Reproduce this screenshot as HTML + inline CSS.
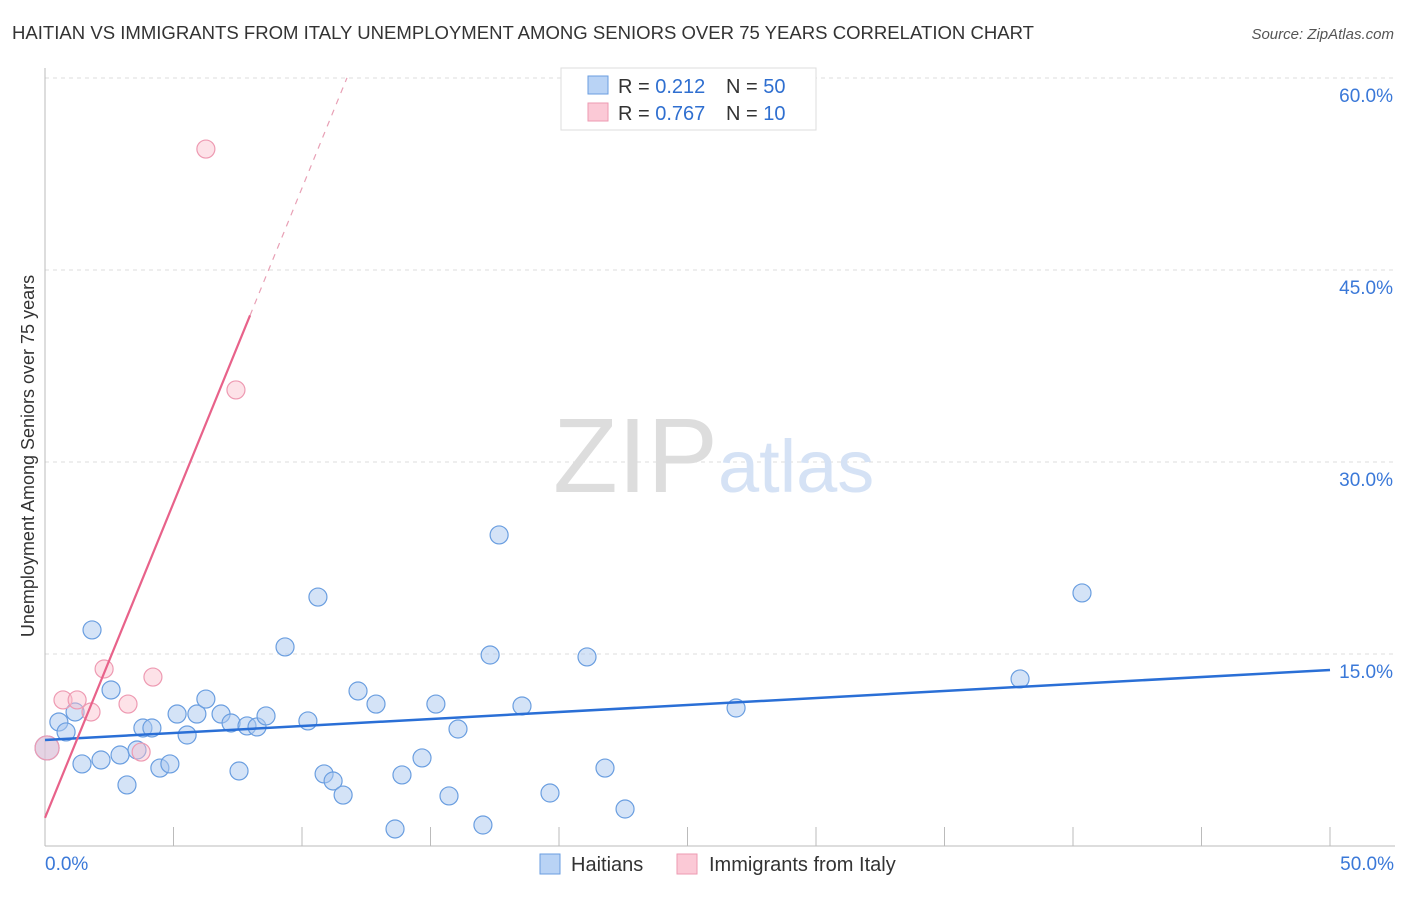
<!DOCTYPE html>
<html><head><meta charset="utf-8"><style>
body{margin:0;background:#fff;font-family:"Liberation Sans",sans-serif;}
svg text{font-family:"Liberation Sans",sans-serif;}
</style></head><body>
<svg id="chart" width="1406" height="892" xmlns="http://www.w3.org/2000/svg">
<text x="12" y="39" font-size="18.5" fill="#333" textLength="1022" lengthAdjust="spacingAndGlyphs">HAITIAN VS IMMIGRANTS FROM ITALY UNEMPLOYMENT AMONG SENIORS OVER 75 YEARS CORRELATION CHART</text>
<text x="1394" y="39" font-size="15" fill="#555" text-anchor="end" font-style="italic">Source: ZipAtlas.com</text>
<g id="grid"></g>
<text x="553" y="492" font-size="106" fill="#ddd" font-family="Liberation Serif">ZIP</text>
<text x="718" y="492" font-size="74" fill="#d5e2f5">atlas</text>
<g id="marks"></g>
<text transform="translate(34,456) rotate(-90)" font-size="18" fill="#333" text-anchor="middle">Unemployment Among Seniors over 75 years</text>
<g>
<rect x="561" y="68" width="255" height="62" fill="#fff" stroke="#ddd"/>
<rect x="588" y="76" width="20" height="18" fill="#b9d3f5" stroke="#6a9ee0"/>
<rect x="588" y="103" width="20" height="18" fill="#fbc9d6" stroke="#ee9ab2"/>
<text x="618" y="93" font-size="20" fill="#333">R = <tspan fill="#2f6fd0">0.212</tspan></text>
<text x="726" y="93" font-size="20" fill="#333">N = <tspan fill="#2f6fd0">50</tspan></text>
<text x="618" y="120" font-size="20" fill="#333">R = <tspan fill="#2f6fd0">0.767</tspan></text>
<text x="726" y="120" font-size="20" fill="#333">N = <tspan fill="#2f6fd0"> 10</tspan></text>
</g>
<g>
<rect x="540" y="854" width="20" height="20" fill="#b9d3f5" stroke="#6a9ee0"/>
<text x="571" y="871" font-size="20" fill="#333">Haitians</text>
<rect x="677" y="854" width="20" height="20" fill="#fbc9d6" stroke="#ee9ab2"/>
<text x="709" y="871" font-size="20" fill="#333">Immigrants from Italy</text>
</g>
</svg>
<script>
const haitianX=[0.54,1.17,0.82,1.83,2.57,1.44,2.18,2.92,3.19,3.81,4.16,3.58,4.47,4.86,5.14,5.53,5.91,6.26,6.85,7.24,7.55,7.86,8.25,8.60,9.34,10.23,10.62,10.86,11.21,11.60,12.18,12.88,13.62,13.89,14.67,15.21,15.72,16.07,17.04,17.32,17.67,18.56,19.65,21.09,21.79,22.57,26.89,37.94,40.35,0.08];
const haitianY=[9.69,10.47,8.91,16.88,12.19,6.41,6.72,7.11,4.77,9.22,9.22,7.5,6.09,6.41,10.31,8.67,10.31,11.48,10.31,9.61,5.86,9.38,9.3,10.16,15.55,9.77,19.45,5.63,5.08,3.98,12.11,11.09,1.33,5.55,6.88,11.09,3.91,9.14,1.64,14.92,24.3,10.94,4.14,14.77,6.09,2.89,10.78,13.05,19.77,7.66];
const italyX=[0.08,0.70,1.25,1.79,2.30,3.23,3.74,4.20,6.26,7.43];
const italyY=[7.66,11.41,11.41,10.47,13.83,11.09,7.34,13.2,54.45,35.63];
const yTicks=[15,30,45,60];
const yTickLabels=["15.0%","30.0%","45.0%","60.0%"];
const xTicks=[0,5,10,15,20,25,30,35,40,45,50];
const haitianTrend=[8.28,13.75];
const italyTrend=[2.2,4.92];
const NS="http://www.w3.org/2000/svg";
const sx=v=>45+v*1285/50, sy=v=>846-v*192/15;
function mk(tag,attrs,parent){const e=document.createElementNS(NS,tag);for(const k in attrs)e.setAttribute(k,attrs[k]);parent.appendChild(e);return e;}
const grid=document.getElementById('grid'), marks=document.getElementById('marks');
yTicks.forEach((t,i)=>{
 const l=mk('line',{x1:45,x2:1395,y1:sy(t),y2:sy(t),stroke:'#ddd','stroke-dasharray':'4,4'},grid);
 
 
 const tx=mk('text',{x:1393,y:sy(t)+24,'font-size':19,fill:'#3a78d8','text-anchor':'end'},grid);
 tx.textContent=yTickLabels[i];
 
 
});
const ax=mk('line',{x1:45,x2:45,y1:68,y2:846,stroke:'#bbb'},grid);


const bx=mk('line',{x1:45,x2:1395,y1:846,y2:846,stroke:'#bbb'},grid);


xTicks.slice(1).forEach(t=>{
 const l=mk('line',{x1:sx(t),x2:sx(t),y1:827,y2:846,stroke:'#bbb'},grid);
 
 
});
const xl0=mk('text',{x:45,y:870,'font-size':19,fill:'#3a78d8'},grid);xl0.textContent=xTicks[0].toFixed(1)+'%';


const xl1=mk('text',{x:1394,y:870,'font-size':19,fill:'#3a78d8','text-anchor':'end'},grid);xl1.textContent=xTicks[xTicks.length-1].toFixed(1)+'%';


haitianX.forEach((x,i)=>{
 const c=mk('circle',{cx:sx(x),cy:sy(haitianY[i]),r:i==haitianX.length-1?12:9,fill:'rgba(170,200,240,0.5)',stroke:'#6a9ee0','stroke-width':1.2},marks);
 
 
});
italyX.forEach((x,i)=>{
 const c=mk('circle',{cx:sx(x),cy:sy(italyY[i]),r:i==0?12:9,fill:'rgba(250,190,205,0.45)',stroke:'#ee9ab2','stroke-width':1.2},marks);
 
 
});
const hl=mk('line',{x1:sx(0),y1:sy(haitianTrend[0]),x2:sx(50),y2:sy(haitianTrend[1]),stroke:'#2a6fd6','stroke-width':2.5},marks);


const f=x=>italyTrend[0]+italyTrend[1]*x;
const il=mk('line',{x1:sx(0),y1:sy(f(0)),x2:sx(7.98),y2:sy(f(7.98)),stroke:'#e8628a','stroke-width':2.2},marks);


const id=mk('line',{x1:sx(7.98),y1:sy(f(7.98)),x2:sx(11.75),y2:sy(f(11.75)),stroke:'#e8a0b5','stroke-width':1.2,'stroke-dasharray':'6,6'},marks);


</script>
</body></html>
